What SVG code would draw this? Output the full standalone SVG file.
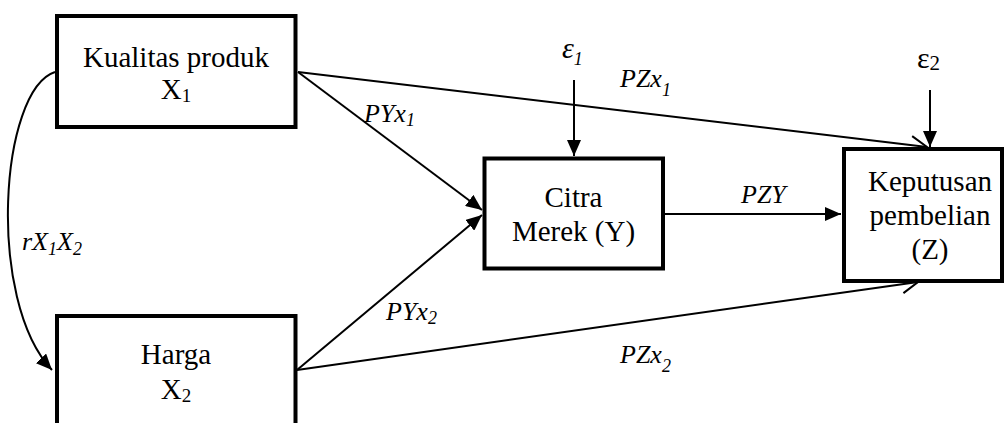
<svg xmlns="http://www.w3.org/2000/svg" width="1004" height="423" viewBox="0 0 1004 423">
<style>
  .box { fill: #ffffff; stroke: #000000; stroke-width: 4; }
  .nt { font-family: "Liberation Serif", "Times New Roman", serif; font-size: 29px; fill: #000000; text-anchor: middle; }
  .lb { font-family: "Liberation Serif", "Times New Roman", serif; font-size: 26px; font-style: italic; fill: #000000; }
  .eps { font-size: 30px; }
  .up { font-style: normal; }
  .con { fill: none; stroke: #000000; stroke-width: 2; }
  .f { marker-end: url(#filled); }
  .o { marker-end: url(#open); }
</style>
<defs>
  <marker id="filled" viewBox="0 0 16 14" markerWidth="16" markerHeight="14" refX="16" refY="7" orient="auto" markerUnits="userSpaceOnUse">
    <path d="M0,0 L16,7 L0,14 z" fill="#000000"/>
  </marker>
  <marker id="open" viewBox="-1 -1 19 20" markerWidth="19" markerHeight="20" refX="16" refY="9" orient="auto" markerUnits="userSpaceOnUse">
    <path d="M0,0 L16,9 L0,18" fill="none" stroke="#000000" stroke-width="2"/>
  </marker>
</defs>
<rect width="1004" height="423" fill="#ffffff"/>

<g id="connectors">
  <path class="con f" d="M55,72 C0,90 -14,300 52,370"/>
  <line class="con f" x1="298" y1="72" x2="482" y2="210"/>
  <line class="con f" x1="297" y1="370" x2="482" y2="215"/>
  <line class="con o" x1="298" y1="72" x2="927" y2="147"/>
  <line class="con o" x1="297" y1="370" x2="918" y2="282"/>
  <line class="con f" x1="665" y1="214" x2="841" y2="214"/>
  <line class="con f" x1="574" y1="80" x2="574" y2="156"/>
  <line class="con f" x1="930" y1="90" x2="930" y2="147"/>
</g>

<g id="node-x1">
  <rect class="box" x="57" y="16" width="238.5" height="111"/>
  <text class="nt" x="176" y="67">Kualitas produk</text>
  <text class="nt" x="176" y="99">X<tspan font-size="19" dy="3">1</tspan></text>
</g>

<g id="node-x2">
  <rect class="box" x="57" y="316" width="238.5" height="120"/>
  <text class="nt" x="176" y="364">Harga</text>
  <text class="nt" x="176" y="399">X<tspan font-size="19" dy="3">2</tspan></text>
</g>

<g id="node-y">
  <rect class="box" x="484.5" y="158.5" width="178.5" height="110"/>
  <text class="nt" x="573.5" y="207">Citra</text>
  <text class="nt" x="573.5" y="241">Merek (Y)</text>
</g>

<g id="node-z">
  <rect class="box" x="844" y="149" width="158" height="132"/>
  <text class="nt" x="930" y="191">Keputusan</text>
  <text class="nt" x="930" y="225">pembelian</text>
  <text class="nt" x="930" y="259">(Z)</text>
</g>

<g id="labels">
  <text class="lb eps" x="562" y="58">ε<tspan font-size="18" dy="7">1</tspan></text>
  <text class="lb eps up" x="917" y="68">ε<tspan font-size="21" dy="2">2</tspan></text>
  <text class="lb" x="620" y="87">PZx<tspan font-size="18" dy="9">1</tspan></text>
  <text class="lb" x="364" y="122">PYx<tspan font-size="18" dy="4">1</tspan></text>
  <text class="lb" x="22" y="250">rX<tspan font-size="18" dy="5">1</tspan><tspan dy="-5">X</tspan><tspan font-size="18" dy="5">2</tspan></text>
  <text class="lb" x="741" y="203">PZY</text>
  <text class="lb" x="386" y="320">PYx<tspan font-size="18" dy="4">2</tspan></text>
  <text class="lb" x="620" y="363">PZx<tspan font-size="18" dy="9">2</tspan></text>
</g>
</svg>
